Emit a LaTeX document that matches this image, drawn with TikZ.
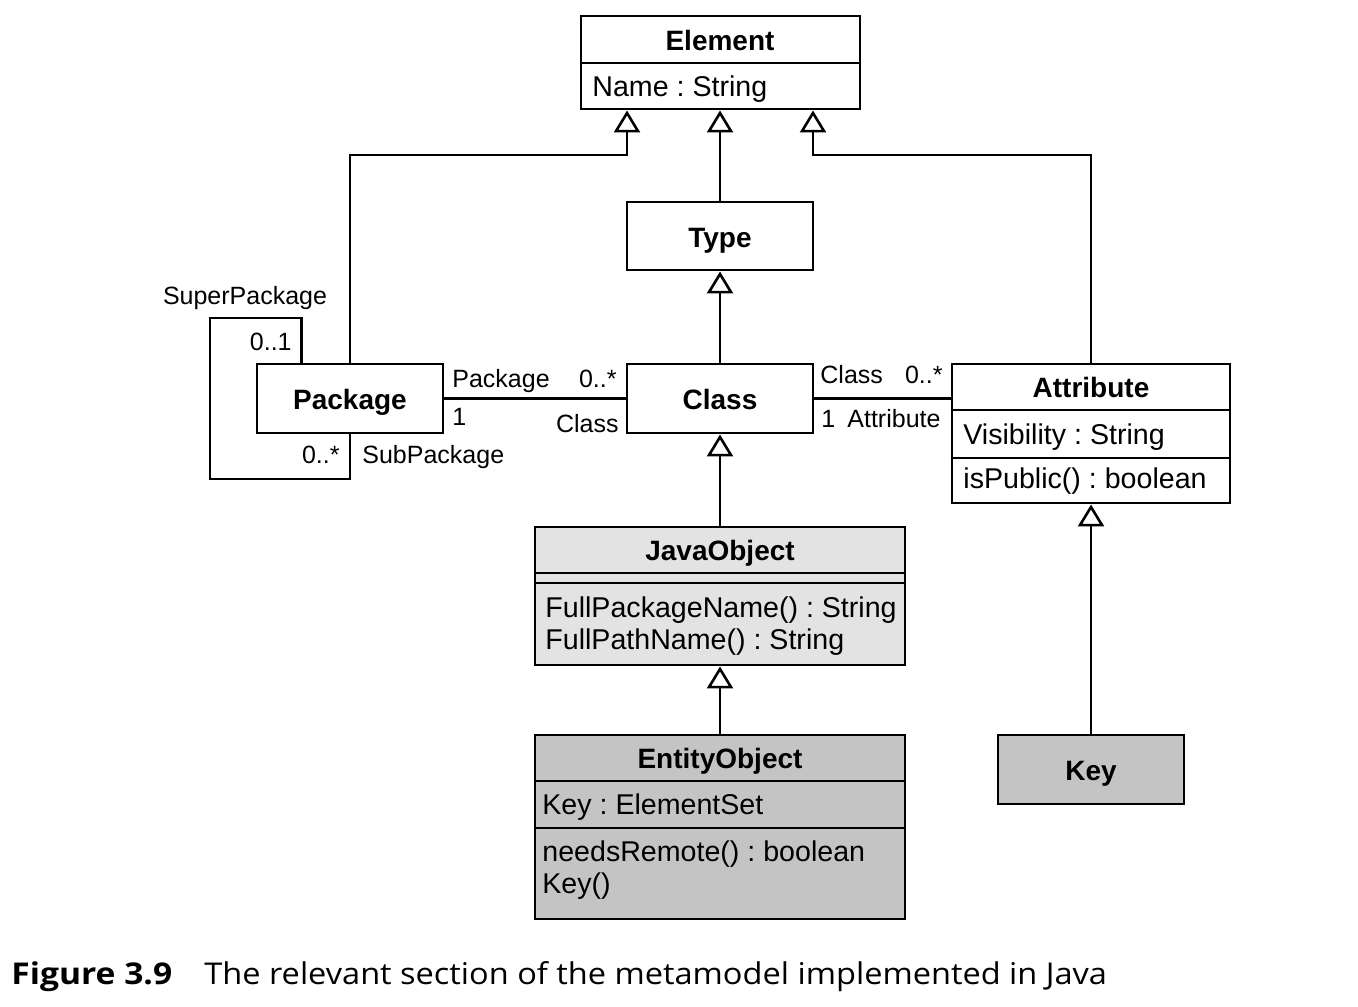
\documentclass[tikz,border=0pt]{standalone}
\usepackage{fontspec}
\setmainfont{Liberation Sans}
\newfontfamily\capfont[FakeStretch=1.085]{Open Sans}
\newfontfamily\capboldfont[FakeStretch=1.12]{Open Sans}
\usetikzlibrary{arrows.meta,fit}
\definecolor{jofill}{HTML}{E3E3E3}
\definecolor{eofill}{HTML}{C4C4C4}
\frenchspacing
\begin{document}
\begin{tikzpicture}[x=0.5pt,y=-0.5pt,
  umlbox/.style={draw, line width=1.45pt, inner sep=0pt},
  umltitle/.style={font=\bfseries\fontsize{14pt}{17pt}\selectfont, anchor=base, inner sep=0pt},
  umlattr/.style={font=\fontsize{14.3pt}{17pt}\selectfont, anchor=base west, inner sep=0pt},
  umllbl/.style={font=\fontsize{12.5pt}{15pt}\selectfont, inner sep=0pt},
  umlconn/.style={line width=1.3pt},
  umlgen/.style={line width=1.3pt, -{Triangle[open, length=11pt, width=13pt, line width=1.3pt]}},
  umldivider/.style={line width=1.45pt},
  captionstyle/.style={anchor=base west, inner sep=0pt, font=\capfont\fontsize{15pt}{18pt}\selectfont}
]
\useasboundingbox (0,0) rectangle (1358,1006);

% boxes
\node[umlbox, fit={(581,16) (860,109)}] (element) {};
\node[umlbox, fit={(627,202) (813,270)}] (type) {};
\node[umlbox, fit={(257,364) (443,433)}] (package) {};
\node[umlbox, fit={(627,364) (813,433)}] (class) {};
\node[umlbox, fit={(952,364) (1230,503)}] (attribute) {};
\node[umlbox, fill=jofill, fit={(535,527) (905,665)}] (javaobject) {};
\node[umlbox, fill=eofill, fit={(535,735) (905,919)}] (entityobject) {};
\node[umlbox, fill=eofill, fit={(998,735) (1184,804)}] (key) {};

% compartments
\draw[umldivider] (element.west |- 0,63) -- (element.east |- 0,63);
\draw[umldivider] (attribute.west |- 0,410) -- (attribute.east |- 0,410);
\draw[umldivider] (attribute.west |- 0,458) -- (attribute.east |- 0,458);
\draw[umldivider] (javaobject.west |- 0,573) -- (javaobject.east |- 0,573);
\draw[umldivider] (javaobject.west |- 0,583) -- (javaobject.east |- 0,583);
\draw[umldivider] (entityobject.west |- 0,781) -- (entityobject.east |- 0,781);
\draw[umldivider] (entityobject.west |- 0,828) -- (entityobject.east |- 0,828);

% texts
\node[umltitle] (t-element) at (720,51) {Element};
\node[umlattr] (a-element) at (592,97) {Name : String};
\node[umltitle] (t-type) at (720,247) {Type};
\node[umltitle] (t-package) at (350,409) {Package};
\node[umltitle] (t-class) at (720,409) {Class};
\node[umltitle] (t-attribute) at (1091,397) {Attribute};
\node[umlattr] (a-attr1) at (963,444) {Visibility : String};
\node[umlattr] (a-attr2) at (963,488) {isPublic() : boolean};
\node[umltitle] (t-java) at (720,560) {JavaObject};
\node[umlattr] (a-java1) at (545,617) {FullPackageName() : String};
\node[umlattr] (a-java2) at (545,649) {FullPathName() : String};
\node[umltitle] (t-entity) at (720,768) {EntityObject};
\node[umlattr] (a-ent1) at (542,814) {Key : ElementSet};
\node[umlattr] (a-ent2) at (542,861) {needsRemote() : boolean};
\node[umlattr] (a-ent3) at (542,893) {Key()};
\node[umltitle] (t-key) at (1091,780) {Key};

% generalizations
\coordinate (eL) at (627,155);
\coordinate (eR) at (813,155);
\draw[umlgen] (type.north) -- (type.north |- element.south);
\draw[umlgen] (package.north) |- (eL) -- (eL |- element.south);
\draw[umlgen] (attribute.north) |- (eR) -- (eR |- element.south);
\draw[umlgen] (class.north) -- (type.south);
\draw[umlgen] (javaobject.north) -- (javaobject.north |- class.south);
\draw[umlgen] (entityobject.north) -- (javaobject.south);
\draw[umlgen] (key.north) -- (key.north |- attribute.south);

% associations
\draw[umlconn] (package.east) -- (class.west);
\draw[umlconn] (class.east) -- (class.east -| attribute.west);
\coordinate (loopTL) at (210,318);
\coordinate (loopBL) at (210,479);
\draw[umlconn] (package.north west) ++(46,0) |- (loopTL) |- (package.south |- loopBL) -- (package.south);

% association labels
\node[umllbl, anchor=base] (l-super) at (245,304) {SuperPackage};
\node[umllbl, anchor=base east] (l-01) at (292,350) {0..1};
\node[umllbl, anchor=base east] (l-0s1) at (340,463) {0..*};
\node[umllbl, anchor=base west] (l-sub) at (362,463) {SubPackage};
\node[umllbl, anchor=base west] (l-pk) at (452,387) {Package};
\node[umllbl, anchor=base east] (l-0s2) at (617,387) {0..*};
\node[umllbl, anchor=base west] (l-1a) at (452,425) {1};
\node[umllbl, anchor=base east] (l-cl) at (619,432) {Class};
\node[umllbl, anchor=base west] (l-cl2) at (820,383) {Class};
\node[umllbl, anchor=base east] (l-0s3) at (943,383) {0..*};
\node[umllbl, anchor=base west] (l-1b) at (821,427) {1};
\node[umllbl, anchor=base west] (l-at) at (847,427) {Attribute};

% caption
\node[captionstyle, font=\capboldfont\bfseries\fontsize{15pt}{18pt}\selectfont] (fig) at (11,984) {Figure 3.9};
\node[captionstyle] (captext) at (204,984) {The relevant section of the metamodel implemented in Java};
\end{tikzpicture}
\end{document}
